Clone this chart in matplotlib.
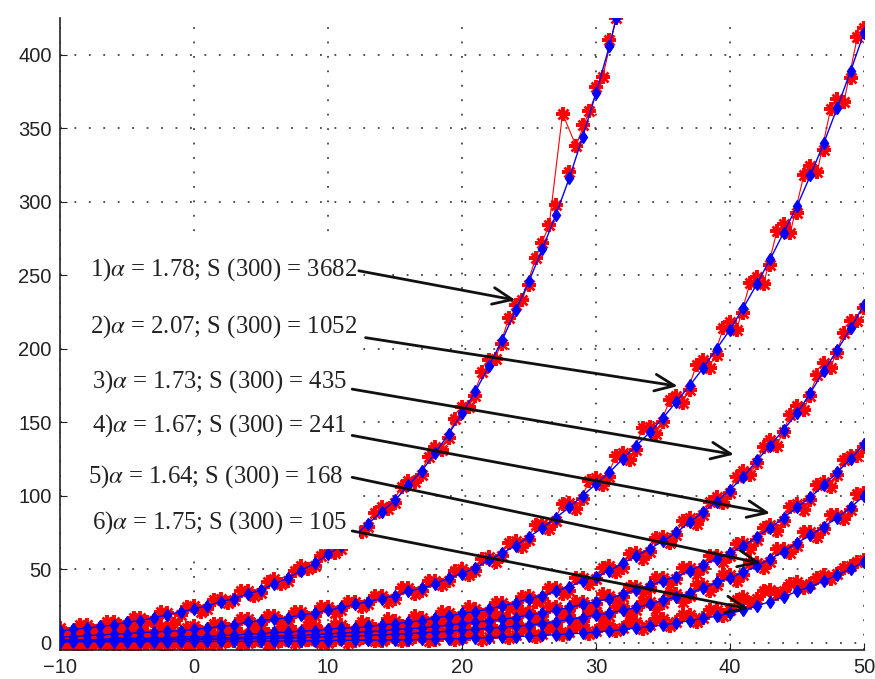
import numpy as np
import matplotlib
matplotlib.use('Agg')
import matplotlib.pyplot as plt
from matplotlib.patches import Rectangle

plt.rcParams['font.family'] = 'Liberation Sans'
plt.rcParams['mathtext.fontset'] = 'stix'

# model curves (blue), sampled at integer x
x_c1 = np.arange(-10, 32)
c1 = [8, 9, 10, 11, 12, 14, 15, 17, 19, 21, 23, 25, 28, 30, 33, 36, 40, 44, 49, 54,
      60, 66, 73, 81, 89, 97, 107, 117, 129, 142, 156, 171, 188, 206, 226, 246, 268,
      291, 316, 344, 374, 406]
x_all = np.arange(-10, 51)
c2 = [4, 4, 5, 5, 6, 6, 7, 7, 8, 8, 9, 10, 11, 12, 14, 15, 16, 17, 19, 20, 22, 24, 26,
      28, 30, 32, 35, 37, 40, 44, 47, 51, 56, 61, 66, 72, 78, 85, 92, 100, 108, 116,
      125, 134, 143, 153, 164, 175, 187, 200, 213, 228, 244, 261, 279, 297, 318, 340,
      364, 389, 415]
c3 = [2, 2, 2, 2, 3, 3, 3, 3, 3, 4, 4, 4, 5, 5, 6, 6, 7, 7, 8, 8, 9, 10, 10, 11, 12,
      13, 14, 15, 17, 18, 20, 21, 23, 25, 27, 30, 32, 35, 38, 42, 45, 49, 54, 59, 64,
      69, 75, 82, 89, 96, 104, 113, 124, 134, 145, 156, 170, 185, 199, 214, 230]
c4 = [1.3, 1.4, 1.5, 1.6, 1.8, 1.9, 2, 2.2, 2.4, 2.6, 2.8, 3, 3.2, 3.5, 3.7, 4, 4.3,
      4.7, 5, 5.5, 6, 6.5, 7, 7.5, 8, 9, 9.5, 10, 11, 12, 13, 14, 15, 16, 17, 19, 20,
      22, 24, 26, 28, 30, 33, 36, 39, 42, 45, 49, 53, 57, 61, 66, 72, 78, 85, 92, 99,
      107, 116, 125, 135]
c5 = [1, 1.1, 1.2, 1.3, 1.4, 1.5, 1.6, 1.7, 1.8, 1.9, 2, 2.1, 2.3, 2.5, 2.6, 2.8, 3,
      3.2, 3.5, 3.7, 4, 4.3, 4.6, 4.9, 5.3, 5.7, 6.2, 6.7, 7.2, 7.8, 8.5, 9, 9.7, 10.5,
      11, 12, 13, 14, 16, 17, 19, 20, 22, 24, 26, 29, 31, 34, 37, 41, 44, 48, 52, 57,
      62, 68, 73, 79, 85, 92, 100]
c6 = [0.5, 0.5, 0.6, 0.6, 0.6, 0.6, 0.7, 0.7, 0.7, 0.8, 0.8, 0.8, 0.9, 0.9, 1, 1, 1.1,
      1.1, 1.2, 1.3, 1.4, 1.5, 1.6, 1.7, 1.8, 1.9, 2, 2.2, 2.4, 2.6, 2.8, 3.1, 3.4,
      3.7, 4.1, 4.5, 5, 5.4, 6, 6.5, 7.2, 8, 9, 10, 11, 12, 13.5, 15, 16.5, 18, 20, 22,
      25, 28, 31, 35, 38, 42, 46, 50, 55]

# measured points (red), at half-integer x
xr_c1 = np.arange(-9.5, 32)
r1 = [6, 12, 8, 14, 11, 17, 14, 21, 13, 24, 21, 29, 27, 35, 32, 41, 40, 49, 50, 59,
      61, 72, 75, 88, 91, 106, 109, 126, 131, 152, 160, 184, 193, 221, 233, 262, 284,
      360, 338, 362, 385, 425]
xr_all = np.arange(-9.5, 50)
r2 = [1, 7, 2, 8, 3, 9, 4, 11, 5, 10, 7, 13, 9, 16, 12, 18, 14, 21, 17, 24, 20, 28, 24,
      32, 28, 37, 33, 42, 39, 49, 46, 57, 55, 68, 65, 80, 77, 94, 91, 110, 107, 127,
      124, 146, 142, 165, 163, 189, 187, 214, 213, 245, 244, 280, 279, 318, 320, 363,
      368, 412]
r3 = [5, 0, 4, 1, 6, 0, 5, 1, 6, 2, 7, 2, 8, 3, 9, 4, 10, 5, 11, 6, 12, 8, 14, 9, 16,
      11, 18, 13, 21, 16, 24, 19, 27, 23, 31, 28, 37, 33, 44, 40, 51, 48, 60, 57, 71,
      68, 83, 81, 96, 95, 113, 114, 133, 134, 155, 158, 182, 187, 211, 219]
r4 = [4, -1, 3, 0, 5, -1, 4, 0, 5, 1, 6, 1, 6, 2, 7, 2, 8, 3, 9, 3, 10, 4, 11, 5, 12,
      6, 13, 8, 15, 9, 17, 11, 19, 13, 21, 16, 24, 19, 28, 23, 33, 28, 38, 34, 44, 40,
      51, 47, 59, 55, 67, 64, 78, 76, 92, 90, 107, 106, 124, 127]
r5 = [-1, 4, 0, 4, -1, 5, 0, 4, 0, 5, 0, 5, 1, 6, 1, 6, 1, 7, 2, 7, 2, 8, 3, 9, 3, 10,
      4, 11, 5, 12, 6, 13, 7, 14, 9, 16, 10, 18, 13, 21, 16, 24, 19, 28, 23, 33, 28,
      39, 35, 46, 42, 54, 51, 64, 61, 75, 72, 87, 84, 101]
r6 = [4, -2, 3, -1, 4, -2, 3, -1, 4, -2, 4, -1, 4, -1, 5, -1, 5, 0, 5, 0, 6, 0, 6, 1,
      6, 1, 7, 1, 7, 2, 8, 2, 8, 3, 9, 4, 10, 5, 11, 6, 12, 8, 14, 9, 16, 11, 19, 14,
      22, 18, 29, 27, 35, 33, 40, 37, 44, 43, 51, 55]

# measured points (red), at integer x
q1 = [10, 7, 12, 9, 14, 12, 17, 15, 20, 19, 25, 23, 30, 29, 35, 34, 43, 42, 52, 52,
      62, 64, 76, 79, 92, 95, 110, 114, 133, 139, 160, 168, 192, 203, 230, 243, 272,
      298, 320, 352, 378, 410]
q2 = [6, 2, 7, 3, 8, 4, 9, 5, 10, 6, 11, 8, 13, 10, 16, 13, 18, 15, 21, 18,
      24, 22, 28, 26, 32, 30, 37, 35, 42, 42, 50, 49, 58, 59, 69, 70, 81, 83, 95, 98,
      112, 113, 129, 131, 147, 150, 168, 172, 192, 196, 218, 224, 249, 257, 285, 292,
      324, 335, 370, 384, 418]
q3 = [0, 4, 1, 5, 1, 5, 2, 6, 1, 6, 2, 7, 3, 8, 4, 9, 5, 10, 6, 11,
      7, 12, 8, 13, 10, 15, 12, 17, 15, 20, 18, 23, 21, 27, 25, 32, 30, 37, 35, 44,
      43, 52, 51, 61, 62, 72, 73, 85, 87, 99, 102, 117, 122, 138, 143, 161, 168, 190,
      197, 219, 228]
q4 = [-1, 3, 0, 4, 0, 4, 0, 5, 1, 5, 1, 5, 2, 6, 2, 6, 3, 7, 3, 8,
      4, 9, 5, 10, 6, 11, 8, 12, 9, 14, 11, 16, 13, 18, 15, 21, 18, 24, 22, 28,
      26, 32, 31, 38, 37, 44, 43, 51, 51, 59, 59, 68, 70, 80, 83, 94, 97, 109, 114,
      127, 133]
q5 = [3, -1, 4, 0, 3, -1, 4, 0, 4, 0, 4, 0, 5, 1, 5, 1, 6, 2, 6, 2,
      6, 3, 7, 3, 8, 4, 9, 5, 10, 6, 11, 7, 12, 8, 13, 10, 15, 12, 18, 15,
      21, 18, 24, 22, 28, 27, 33, 32, 39, 39, 46, 46, 54, 55, 64, 66, 75, 77, 87, 90,
      102]
q6 = [-1, 3, -2, 3, -1, 4, -1, 3, -2, 4, -1, 4, 0, 4, 0, 5, 0, 5, 1, 5,
      0, 5, 1, 6, 1, 6, 2, 6, 2, 7, 3, 7, 4, 8, 5, 9, 6, 10, 7, 11,
      8, 12, 10, 14, 12, 16, 14, 19, 17, 22, 22, 31, 30, 36, 35, 41, 40, 46, 47, 52,
      56]

labels = [r'1)$\alpha$ = 1.78; S (300) = 3682',
          r'2)$\alpha$ = 2.07; S (300) = 1052',
          r'3)$\alpha$ = 1.73; S (300) = 435',
          r'4)$\alpha$ = 1.67; S (300) = 241',
          r'5)$\alpha$ = 1.64; S (300) = 168',
          r'6)$\alpha$ = 1.75; S (300) = 105']
label_xy = [(-7.8, 253.6), (-7.8, 215), (-7.6, 177.5), (-7.6, 148), (-7.9, 112.7), (-7.6, 82)]
arrow_from = [(12.3, 253), (12.8, 207.5), (11.8, 172.5), (11.8, 141), (11.8, 112.5), (11.8, 76)]
arrow_to = [(24.0, 233), (36.1, 174.5), (40.3, 128), (43.0, 88), (42.3, 54), (41.4, 23)]

fig = plt.figure(figsize=(8.75, 6.79), dpi=100)
ax = fig.add_axes([0.0686, 0.0427, 0.9189, 0.9308])

red_sets = [(xr_c1, r1), (xr_all, r2), (xr_all, r3), (xr_all, r4), (xr_all, r5), (xr_all, r6)]
red_sets2 = [(x_c1, q1), (x_all, q2), (x_all, q3), (x_all, q4), (x_all, q5), (x_all, q6)]
blue_sets = [(x_c1, c1), (x_all, c2), (x_all, c3), (x_all, c4), (x_all, c5), (x_all, c6)]

for xs, ys in red_sets:
    ax.plot(xs, ys, '-', color='red', lw=0.8, zorder=2)
for xs, ys in red_sets + red_sets2:
    ax.plot(xs, ys, 'none', marker='+', ms=10, mew=2.8, mec='red', zorder=2)
    ax.plot(xs, ys, 'none', marker='x', ms=7.5, mew=2.0, mec='red', zorder=2)
for xs, ys in blue_sets:
    ax.plot(xs, ys, '-', color='blue', lw=1.0, marker='d', ms=6.5, mfc='blue',
            mec='blue', zorder=3)
# top point of curve 1 where it leaves the axes
ax.plot([31, 31.5], [406, 425], '-d', color='blue', lw=1.0, ms=6.5, zorder=3)

ax.set_xlim(-10, 50)
ax.set_ylim(-5, 425)
ax.set_xticks(range(-10, 51, 10))
ax.set_yticks(range(0, 401, 50))
ax.tick_params(direction='in', length=5, labelsize=14.5, colors='#222222', pad=6)
ax.grid(True, linestyle=(0, (1, 7)), color='#444444', lw=1.3)
ax.set_axisbelow(True)
for s in ['top', 'right']:
    ax.spines[s].set_visible(False)
for s in ['left', 'bottom']:
    ax.spines[s].set_linewidth(1.2)
    ax.spines[s].set_color('#222222')

# white panel behind the labels
ax.add_patch(Rectangle((-9.1, 64), 21.4, 210, facecolor='white', edgecolor='none', zorder=4))

for txt, (tx, ty) in zip(labels, label_xy):
    ax.text(tx, ty, txt, fontsize=17.8, family='Liberation Serif', color='#222222',
            va='center', ha='left', zorder=6)

for (x0, y0), (x1, y1) in zip(arrow_from, arrow_to):
    ax.annotate('', xy=(x1, y1), xytext=(x0, y0),
                arrowprops=dict(arrowstyle='->,head_length=0.7,head_width=0.3',
                                color='#111111', lw=2, mutation_scale=20,
                                shrinkA=0, shrinkB=0), zorder=6)

plt.savefig('out.png', dpi=100)
